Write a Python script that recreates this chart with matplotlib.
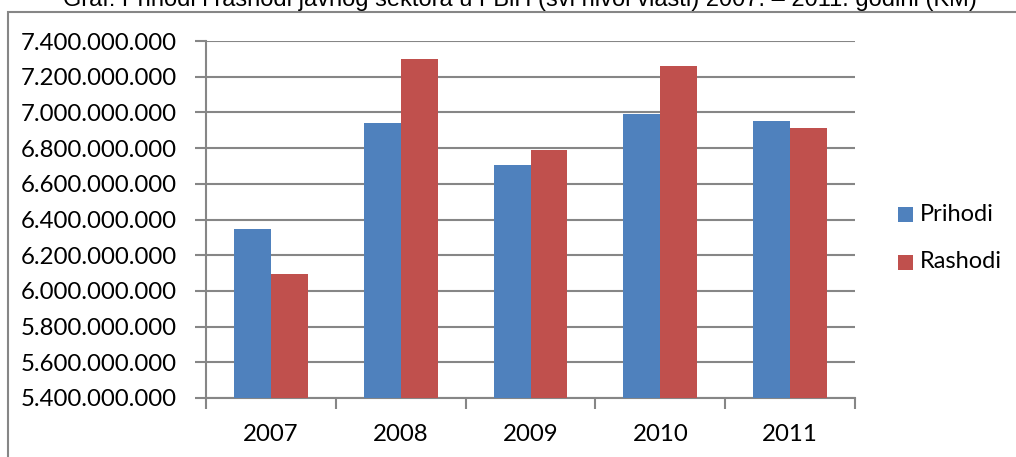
import numpy as np
import matplotlib
matplotlib.use("Agg")
import matplotlib.pyplot as plt
from matplotlib.patches import Rectangle
from matplotlib.ticker import FuncFormatter, FixedLocator

# data (KM)
years = ["2007", "2008", "2009", "2010", "2011"]
prihodi = [6.348e9, 6.940e9, 6.705e9, 6.993e9, 6.950e9]
rashodi = [6.093e9, 7.301e9, 6.787e9, 7.262e9, 6.910e9]
series_names = ["Prihodi", "Rashodi"]
colors = ["#4F81BD", "#C0504D"]

title = "Graf: Prihodi i rashodi javnog sektora u FBiH (svi nivoi vlasti) 2007. \u2013 2011. godini (KM)"

W, H = 1016, 457
fig = plt.figure(figsize=(W / 100, H / 100), dpi=100)
grid_col = "#868686"
lab_font = "Lato"

# outer chart frame
fig.add_artist(Rectangle((8 / W, -0.1), 1.2, (H - 12) / H + 0.1,
                         transform=fig.transFigure, fill=False,
                         edgecolor=grid_col, lw=1.5))

# title sits partly above the image edge, as in the source
fig.text(520 / W, 1 - 6 / H, title, ha="center", va="baseline",
         fontsize=17, family="Liberation Sans")

ax = fig.add_axes([206 / W, 1 - 398 / H, (855 - 206) / W, (398 - 41) / H])

x = np.arange(len(years))
bw = 0.285
ax.bar(x - bw / 2, prihodi, bw, color=colors[0], zorder=3)
ax.bar(x + bw / 2, rashodi, bw, color=colors[1], zorder=3)

ax.set_xlim(-0.5, len(years) - 0.5)
ax.set_ylim(5.4e9, 7.4e9)
ax.set_yticks(np.arange(5.4e9, 7.41e9, 0.2e9))
ax.yaxis.set_major_formatter(FuncFormatter(lambda v, p: f"{v:,.0f}".replace(",", ".")))
ax.grid(axis="y", color=grid_col, lw=1.5, zorder=0)

ax.set_xticks(x)
ax.set_xticklabels(years)
ax.xaxis.set_minor_locator(FixedLocator(np.arange(-0.5, len(years), 1)))
ax.tick_params(axis="x", which="major", length=0, pad=19)
ax.tick_params(axis="x", which="minor", length=8, width=1.5, color=grid_col, direction="out")
ax.tick_params(axis="y", length=8, width=1.5, color=grid_col, direction="out", pad=13)
for lab in ax.get_xticklabels() + ax.get_yticklabels():
    lab.set_family(lab_font)
    lab.set_fontsize(17.3)

for s in ["top", "right"]:
    ax.spines[s].set_visible(False)
for s in ["left", "bottom"]:
    ax.spines[s].set_color(grid_col)
    ax.spines[s].set_linewidth(1.5)

# legend
for i, (name, c) in enumerate(zip(series_names, colors)):
    yc = 214 + i * 48
    fig.add_artist(Rectangle((898 / W, 1 - (yc + 7.5) / H), 15 / W, 15 / H,
                             transform=fig.transFigure, facecolor=c, edgecolor="none"))
    fig.text(920 / W, 1 - yc / H, name, ha="left", va="center",
             fontsize=17, family=lab_font)

fig.savefig("out.png", dpi=100)
